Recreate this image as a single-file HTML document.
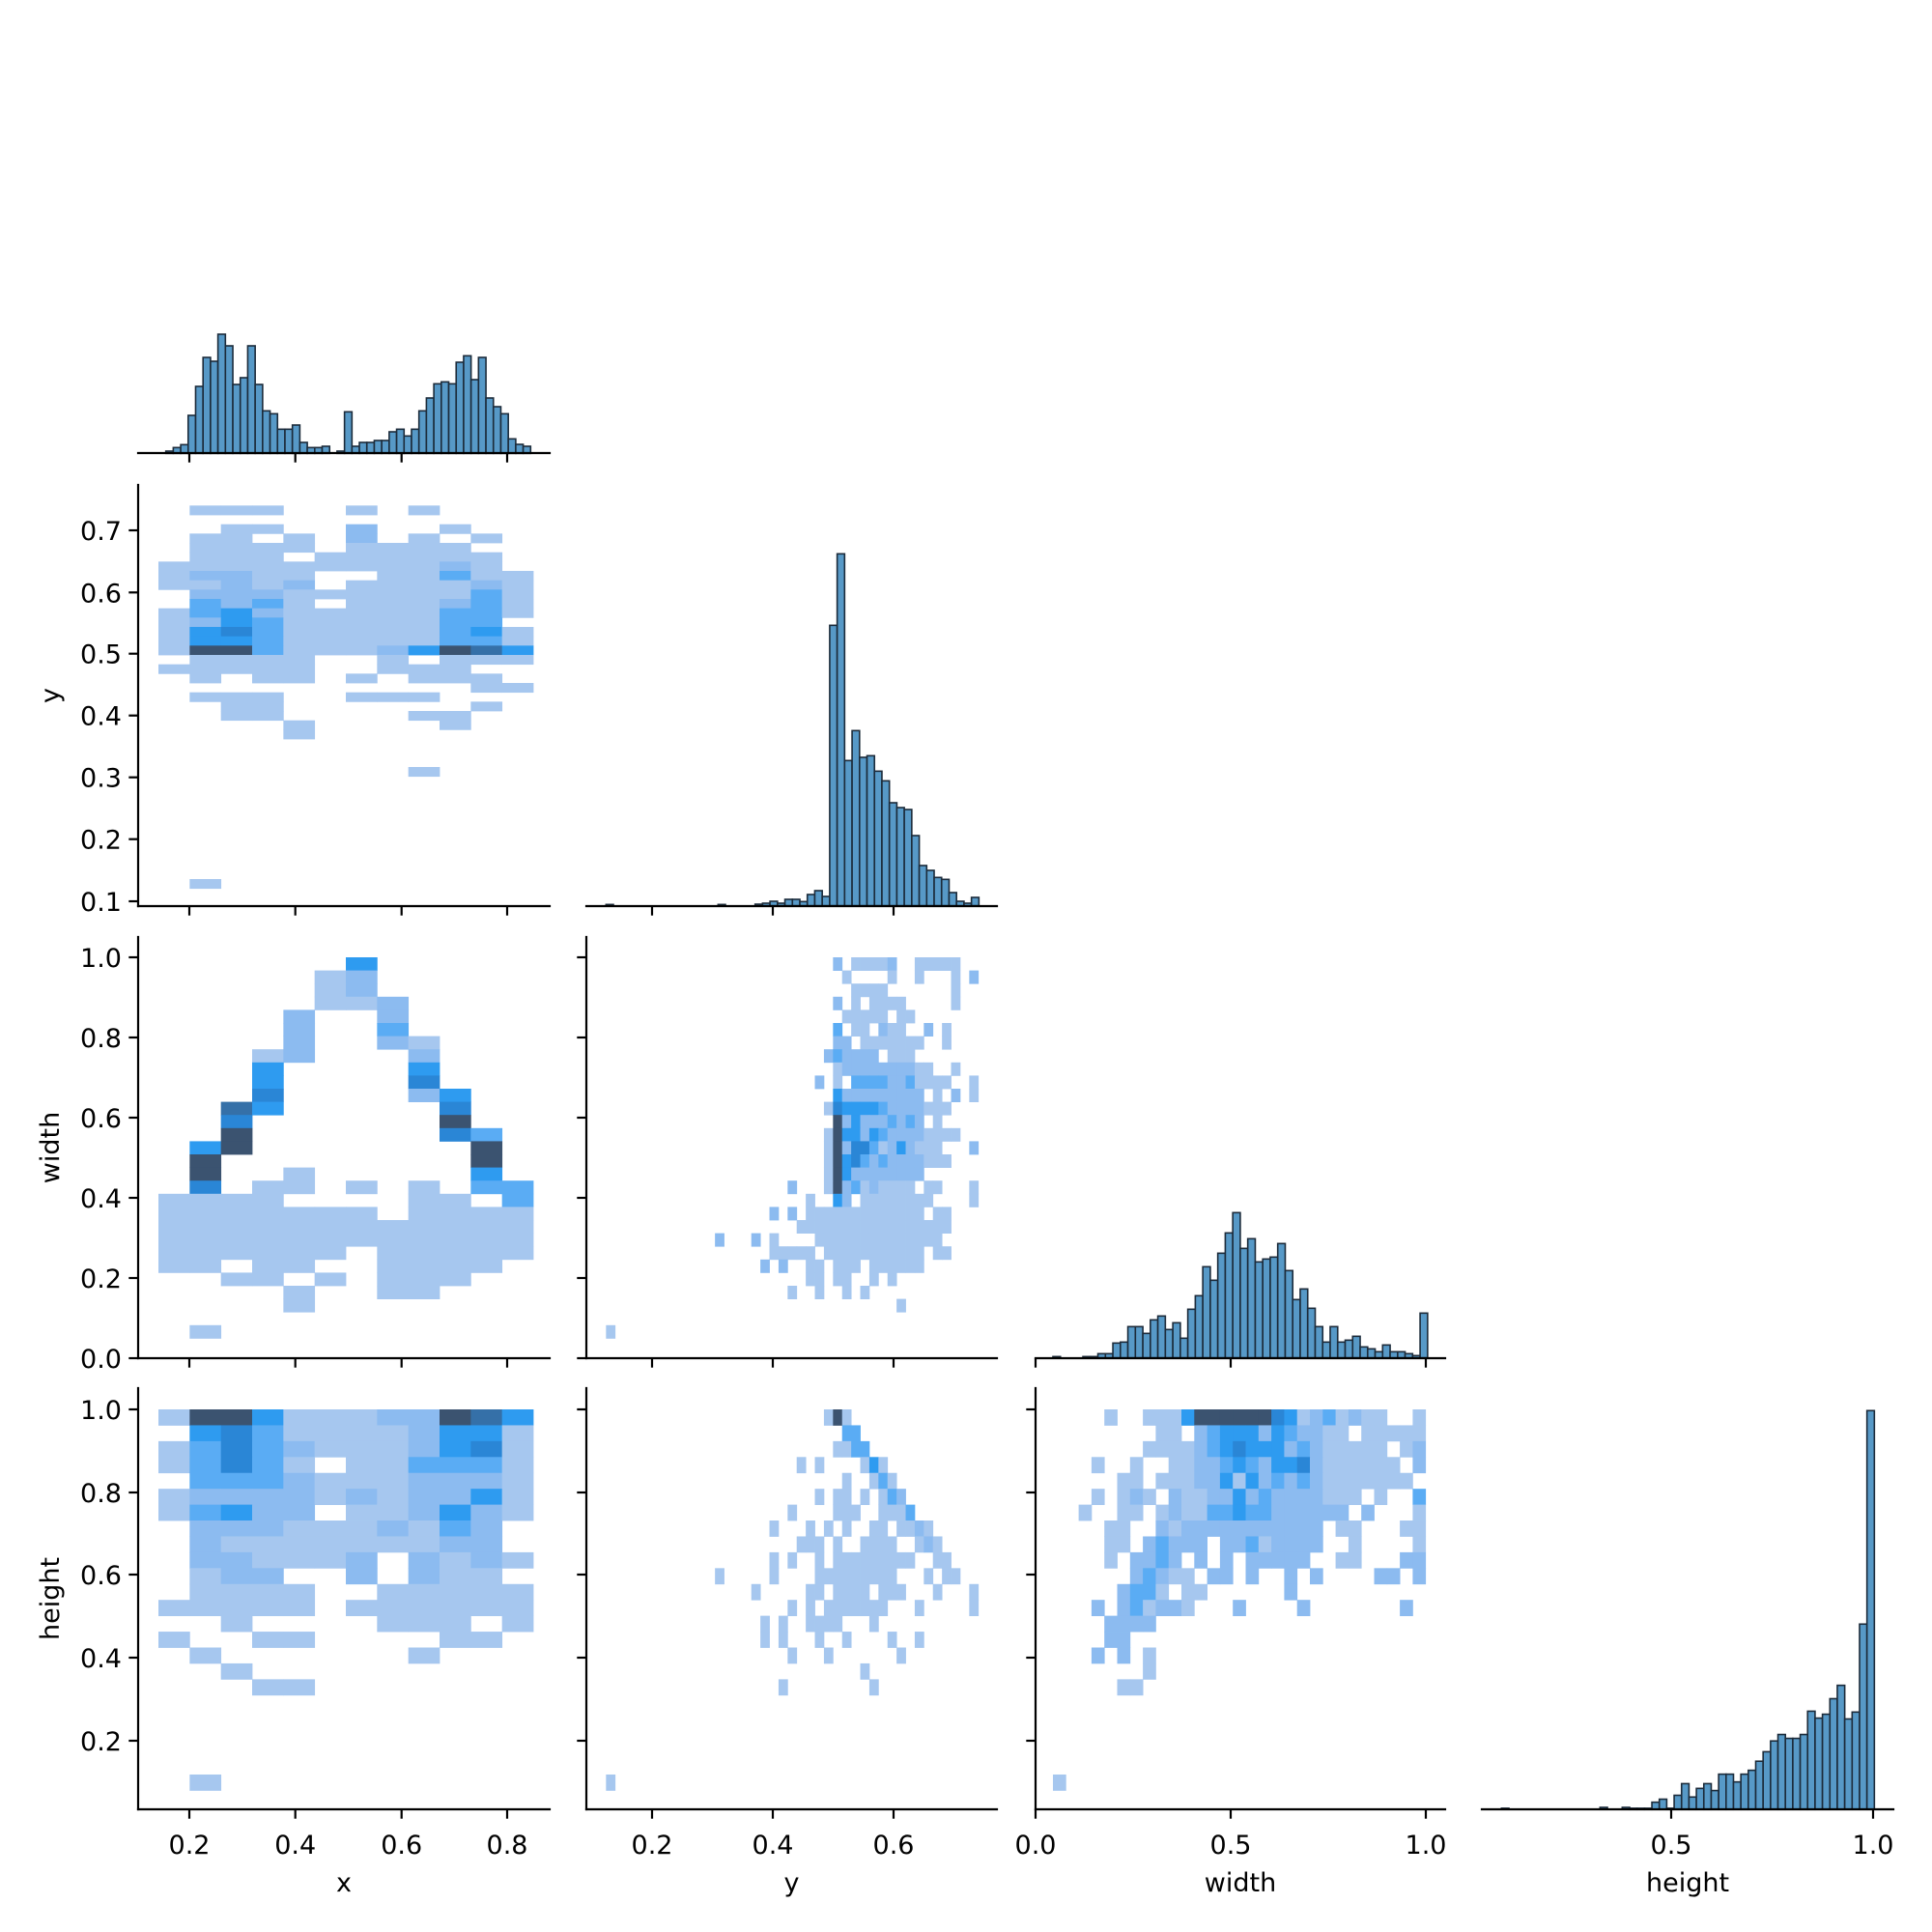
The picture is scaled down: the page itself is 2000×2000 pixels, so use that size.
<!DOCTYPE html>
<html><head><meta charset="utf-8"><style>
html,body{margin:0;padding:0;background:#fff;}
svg{display:block;}
text{font-family:"DejaVu Sans","Liberation Sans",sans-serif;font-size:27px;fill:#000;}
</style></head><body>
<div id="c"></div>
<script>
var s='';
var C={L:'#a6c7ef',M:'#8cbbf0',B:'#5aacf4',D:'#2e9bf0',E:'#2a86d6',F:'#3570a8',K:'#3b5370'};
function rect(x,y,w,h,f,ex){s+='<rect x="'+x.toFixed(2)+'" y="'+y.toFixed(2)+'" width="'+w.toFixed(2)+'" height="'+h.toFixed(2)+'" fill="'+f+'" '+(ex||'')+'/>';}
function heat(ox,oy,x0,cw,y0,ch,rows){
  rows.forEach(function(r){var ri=r[0],st=r[1],str=r[2];
    for(var i=0;i<str.length;i++){var c=str[i];if(c==='.')continue;
      rect(ox+(x0+cw*(st+i))/3,oy+(y0+ch*ri)/3,cw/3+0.4,ch/3+0.4,C[c]);}});
}
function full(arr){var o=[];arr.forEach(function(t,i){if(t)o.push([i,0,t]);});return o;}
function hist(ox,oy,sx,sy,base,x0,w,tops){
  tops.forEach(function(t,k){if(t>=base)return;var x=x0+w*k;
    rect(ox+x/sx,oy+t/sy,w/sx,(base-t)/sy,'#5799c7','stroke="#1c2b3a" stroke-width="1.6"');});
}
heat(140,500,72,97,70,29,full([
".LLL..L.L...","","..LL..M..L..",".LL.L.M.L.L.",".LLLL.LLLL..",".LLL.LLLLLL.",
"LLLLLLLLLML.","LMMLL..LLBLL","LLMLM.LLLLML",".MMMLLLLLLBL",".BMBL.LLLMBL","LBDMLLLLLBBL",
"LMDBLLLLLBB.","LDEBLLLLLBDL","LDDBLLLLLBBL","LKKBLLLMDKFD",".LLLL..L.LLL","LLLLL..LLL..",
".L.LL.L.LLL.","..........LL",".LLL..LLL...","..LL......L.","..LL....LL..","....L....L..",
"....L.......","","","","........L...","","","","","","","","","","","",".L.........."]));
heat(140,980,72,97,33,40.8,full([
"......D.....",".....LM.....",".....LM.....",".....LLM....","....M..M....","....M..B....",
"....M..ML...","...LM...M...","...D....D...","...D....E...","...E....MD..","..FD.....E..",
"..E......K..","..K......EB.",".DK.......K.",".K........K.",".K..L.....D.",".E.LL.L.L.BB",
"LLLL....LL.B","LLLLLLL.LLLL","LLLLLLLLLLLL","LLLLLLLLLLLL","LLLLLL.LLLLL","LL.LL..LLLL.",
"..LL.L.LLL..","....L..LL...","....L.......","",".L.........."]));
heat(140,1450,72,97,27,49.3,full([
"LKKDLLLMMKFD",".DEBLLLLMDDL","LBEBMLLLMDEL","LBEBL.LLBBBL",".BBBMLLLMMML","LMMMMLMLMMDL",
"LBDMM.LLMDML",".MMMLLLMLBM.",".MLLLLLLLMM.",".MMLLLM.MLML",".LMM..M.MLL.",".LLLL..LLLLL",
"LLLLL.LLLLLL","..L....LLL.L","L..LL....LL.",".L......L...","..L.........","...LL.......",
"","","","","",".L.........."]));
heat(600,980,82,28.2,33,40.8,[
[0,25,"M.LLLLM..LLLLL"],[1,26,"L....L..L...L.M"],[2,27,"LLLL.......L"],[3,25,"M.L.LLLL.....L"],
[4,26,"LLLLL.LL"],[5,25,"B.LL.MLL..M.L"],[6,25,"MM.LLLLLLL..L"],[7,24,"MBMMMM.LLL"],
[8,25,"LMMMMMMMMLL..L"],[9,23,"M.L.BBBBMMBLLLL..L"],[10,25,"DMMMMMMMMM.L.M.L"],[11,24,"LEDDDDBMMMMLLL"],
[12,25,"KMDMMMBMBM.L"],[13,24,"LKDDMDBMMMMLLLL"],[14,24,"LKMEEBLMDMLLL...M"],[15,24,"LKDEBMBMMMMLLL"],
[16,24,"LKDMMMMMMMM"],[17,20,"M...LKMBLMLLLL.LL...L"],[18,22,"L..DM.LLLLLLLL....L"],[19,18,"M.M.LLLLLLLLLLLLL.LL"],
[20,21,"LLLLLLLLLLLLLLLLL"],[21,12,"M...M.L....LLLLLLLLLLLLLL"],[22,18,"LLLLL.LLLLLLLLLLL.LL"],[23,17,"M.M..LL.LLL.LLLLLL"],
[24,22,"LL.LL..L.L"],[25,20,"L..L..L.L"],[26,32,"L"],[28,0,"L"]]);
heat(600,1450,82,28.2,27,49.3,[
[0,24,"LKL"],[1,26,"BB"],[2,25,"LLBB"],[3,21,"L.L....LDL"],[4,26,"L..LBL"],[5,23,"L.LL.L.LBM"],
[6,20,"L....LLL..LLLB"],[7,18,"L...L.L.L..LL.LLML"],[8,21,"LLL.L..LLLL..LML"],[9,18,"L.L..L.LLLLLLLLL..LL"],
[10,12,"L.....L....LLLLLLLLL...L.LL"],[11,16,"L.....LL.LLLL.LLL...L...L"],[12,20,"L.L.LLLLLLL...L.....L"],
[13,17,"L.L..LLLL...L"],[14,17,"L.L...L..L....L..L"],[15,20,"L...L.......L"],[16,28,"L"],[17,19,"L.........L"],[23,0,"L"]]);
heat(1070,1450,60,39.9,27,49.3,[
[0,4,"L..LLLDKKKKKKEDLMBLMLL..L"],[1,8,"LL.MBDDDMDBMMLL.LLLLL"],[2,7,"LLLLMBDEDDDMBMLLLLL.LM"],
[3,3,"L..L..LLMMBDBMDDEMLLLLLL.M"],[4,5,"LL.LLLMMDLDMBMBMLLLLLLL"],[5,3,"L.LML.MLLMMDMBMMMMLLL.L..B"],
[6,2,"L..LL.LMLLBBDBBMMMMMM.M...L"],[7,4,"LL..MLMMMMMMMMMMM.LL...LL"],[8,4,"LL.MBMMM.MMBLMMMM..L....L"],
[9,4,"L.MMBM.M.M.MMMMM..LL...MM"],[10,6,"MBMLL.MM.M..M.M....MM.M"],[11,5,"MBBL.LL......M"],
[12,3,"M.MBLMML...M....M.......M"],[13,4,"MMMM"],[14,4,"MM"],[15,3,"M.M.L"],[16,7,"L"],[17,5,"LL"],[23,0,"L"]]);
hist(140,320,3,3,448,95,23.12,[441,430,421,330,240,150,162,78,114,234,213,114,234,316,325,373,373,360,414,430,430,426,448,441,319,426,414,414,408,408,381,373,394,373,316,276,232,226,232,165,145,219,150,276,303,325,403,420,426]);
hist(600,560,3,3,1133,82,23,[1129]);
hist(600,560,3,3,1133,430,23,[1129]);
hist(600,560,3,3,1133,545,23.17,[1128,1125,1119,1125,1113,1113,1120,1098,1086,1104,262,40,682,589,672,667,715,745,813,828,834,915,1008,1023,1045,1051,1092,1119,1125,1107]);
hist(1070,1200,3,3,617,60,23.27,[613,617,617,617,613,613,604,604,571,568,520,520,541,499,487,529,508,556,466,424,334,376,292,229,166,277,247,319,310,304,262,346,436,403,463,520,568,520,568,562,550,583,589,598,577,598,598,604,610,478]);
hist(1530,1200,3,2.24,1508,73,23,[1505]);
hist(1530,1200,3,2.24,1508,379,23,[1503]);
hist(1530,1200,3,2.24,1508,448,23.03,[1503,1505,1505,1505,1491,1484,1505,1475,1448,1479,1459,1448,1464,1426,1426,1444,1426,1417,1396,1374,1349,1334,1343,1343,1334,1280,1296,1287,1251,1220,1298,1282,1078,583]);
var cols=[[143,569],[607,1032],[1072,1496],[1534,1960]];
var rowsY=[[33,469],[502,938],[970,1406],[1437,1873]];
var xt=[[196,305.7,415.7,525],[675,800,925],[1072,1274,1476],[1730,1939]];
var xl=[["0.2","0.4","0.6","0.8"],["0.2","0.4","0.6"],["0.0","0.5","1.0"],["0.5","1.0"]];
var yt=[null,[549,613.3,676.7,740.7,804.7,868.7,933],[991,1074,1157,1240,1323,1406],[1459,1545,1630,1716,1802]];
var yl=[null,["0.7","0.6","0.5","0.4","0.3","0.2","0.1"],["1.0","0.8","0.6","0.4","0.2","0.0"],["1.0","0.8","0.6","0.4","0.2"]];
function line(x1,y1,x2,y2){s+='<line x1="'+x1+'" y1="'+y1+'" x2="'+x2+'" y2="'+y2+'" stroke="#000" stroke-width="2.2" stroke-linecap="square"/>';}
function tick(x1,y1,x2,y2){s+='<line x1="'+x1+'" y1="'+y1+'" x2="'+x2+'" y2="'+y2+'" stroke="#000" stroke-width="2.2"/>';}
for(var r=0;r<4;r++){for(var c=0;c<=r;c++){
  var X=cols[c],Y=rowsY[r];
  line(X[0],Y[1],X[1],Y[1]);
  xt[c].forEach(function(t){tick(t,Y[1],t,Y[1]+9.7);});
  if(c!==r){line(X[0],Y[0],X[0],Y[1]);
    yt[r].forEach(function(t){tick(X[0]-9.7,t,X[0],t);});}
  if(r===3){xt[c].forEach(function(t,i){s+='<text x="'+t+'" y="'+(Y[1]+46)+'" text-anchor="middle">'+xl[c][i]+'</text>';});}
  if(c===0&&r>0){yt[r].forEach(function(t,i){s+='<text x="'+(X[0]-17)+'" y="'+(t+10)+'" text-anchor="end">'+yl[r][i]+'</text>';});}
}}
var xn=["x","y","width","height"];
for(var c=0;c<4;c++){s+='<text x="'+((cols[c][0]+cols[c][1])/2)+'" y="1958" text-anchor="middle">'+xn[c]+'</text>';}
[["y",720],["width",1188],["height",1655]].forEach(function(a){s+='<text transform="translate(61,'+a[1]+') rotate(-90)" text-anchor="middle">'+a[0]+'</text>';});
document.getElementById('c').innerHTML='<svg width="2000" height="2000" viewBox="0 0 2000 2000">'+s+'</svg>';
</script>
</body></html>
